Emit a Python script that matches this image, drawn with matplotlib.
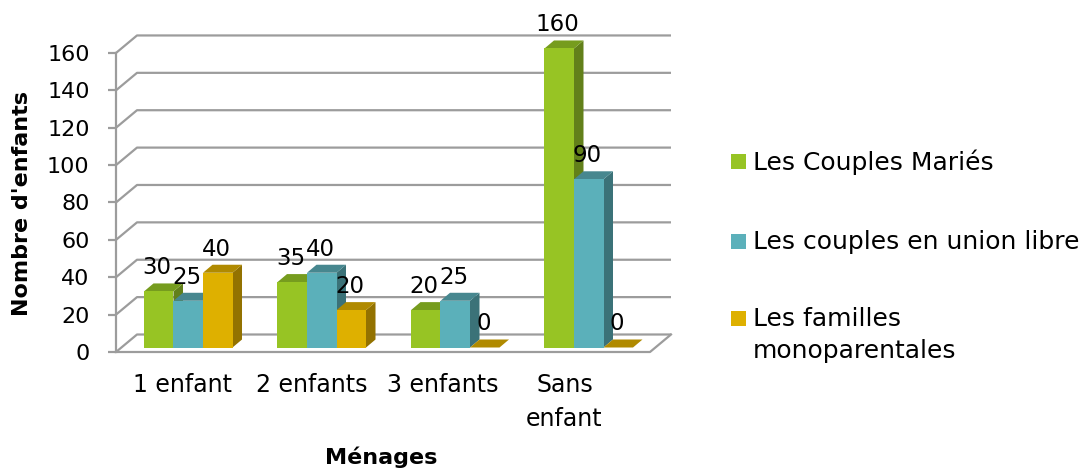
import numpy as np
import matplotlib
matplotlib.use("Agg")
import matplotlib.pyplot as plt
from matplotlib.patches import Polygon, Rectangle

# data
categories = ["1 enfant", "2 enfants", "3 enfants", "Sans\nenfant"]
series = ["Les Couples Mariés", "Les couples en union libre",
          "Les familles\nmonoparentales"]
maries = [30, 35, 20, 160]
union_libre = [25, 40, 25, 90]
monoparentales = [40, 20, 0, 0]
yticks = [0, 20, 40, 60, 80, 100, 120, 140, 160]

values = [maries, union_libre, monoparentales]
front_cols = ["#97C424", "#5BB0BA", "#DEB000"]
side_cols = ["#62801A", "#3B7278", "#937200"]
top_cols = ["#769C1E", "#47878F", "#B08A00"]

W, H = 1087, 476
fig = plt.figure(figsize=(W / 100, H / 100), dpi=100)

# pixel geometry of the fake 3d box
PX_L, PX_CAT = 116, 133.5      # front axis x, width of one category
PY0, PPU = 352, 1.869          # y of value 0, pixels per unit
FDX, FDY = 21, 17.5            # floor depth
BOX, BOY = 5.5, 4.5            # bar front offset from floor front
BDX, BDY = 9.5, 8              # bar depth
ux, uy = 1 / PX_CAT, 1 / PPU

l, r, t, b = 100, 700, 10, 365
ax = fig.add_axes([l / W, 1 - b / H, (r - l) / W, (b - t) / H])
ax.set_xlim((l - PX_L) * ux - 0.5, (r - PX_L) * ux - 0.5)
ax.set_ylim((PY0 - b) * uy, (PY0 - t) * uy)

grid_c = "#9C9C9C"
x0, x1 = -0.5, len(categories) - 0.5
fdx, fdy = FDX * ux, FDY * uy
for v in yticks:
    ax.plot([x0, x0 + fdx, x1 + fdx], [v, v + fdy, v + fdy],
            color=grid_c, lw=1.6, zorder=1, solid_capstyle="butt")
# floor front and right edge
ax.plot([x0, x1, x1 + fdx], [0, 0, fdy], color=grid_c, lw=1.6, zorder=1)

# bars
bw = 0.221
box, boy = BOX * ux, BOY * uy
bdx, bdy = BDX * ux, BDY * uy
xc = np.arange(len(categories))
for k, vals in enumerate(values):
    xs = xc + (k - 1) * bw + box
    for xi, v in zip(xs, vals):
        xa, xb = xi - bw / 2, xi + bw / 2
        top = v + boy
        side = Polygon([(xb, boy), (xb, top), (xb + bdx, top + bdy),
                        (xb + bdx, boy + bdy)], closed=True,
                       fc=side_cols[k], ec="none", zorder=2)
        lid = Polygon([(xa, top), (xb, top), (xb + bdx, top + bdy),
                       (xa + bdx, top + bdy)], closed=True,
                      fc=top_cols[k], ec="none", zorder=2)
        ax.add_patch(side)
        ax.add_patch(lid)
        ax.annotate(str(v), (xi - 1.5 * ux, top + bdy), xytext=(0, 6.5),
                    textcoords="offset points", ha="center", va="baseline",
                    fontsize=16.5, zorder=5)
    ax.bar(xs, vals, width=bw, bottom=boy, color=front_cols[k],
           linewidth=0, zorder=3)

# axes
for s in ["top", "right", "bottom"]:
    ax.spines[s].set_visible(False)
ax.spines["left"].set_position(("data", x0))
ax.spines["left"].set_bounds(0, 160)
ax.spines["left"].set_color(grid_c)
ax.spines["left"].set_linewidth(1.6)
ax.set_yticks(yticks)
ax.tick_params(axis="y", length=6, width=1.6, color=grid_c, pad=13,
               labelsize=16)
ax.set_xticks(xc + np.array([0, -0.03, -0.05, -0.14]))
ax.set_xticklabels(categories, fontsize=17, linespacing=1.5)
ax.tick_params(axis="x", length=0, pad=6)

fig.text(22 / W, 1 - 204 / H, "Nombre d'enfants", rotation=90,
         ha="center", va="center", fontsize=16, fontweight="bold")
fig.text(381 / W, 1 - 457 / H, "Ménages", ha="center", va="center",
         fontsize=16, fontweight="bold")

# legend
leg_y = [161.5, 241, 318.5]
for k, (name, y) in enumerate(zip(series, leg_y)):
    fig.patches.append(Rectangle((731 / W, 1 - (y + 7.5) / H), 15 / W, 15 / H,
                                 transform=fig.transFigure,
                                 fc=front_cols[k], ec="none"))
    lines = name.split("\n")
    for j, line in enumerate(lines):
        fig.text(753 / W, 1 - (y + 1 + j * 31.5) / H, line, ha="left",
                 va="center", fontsize=18)

fig.savefig("out.png", dpi=100)
